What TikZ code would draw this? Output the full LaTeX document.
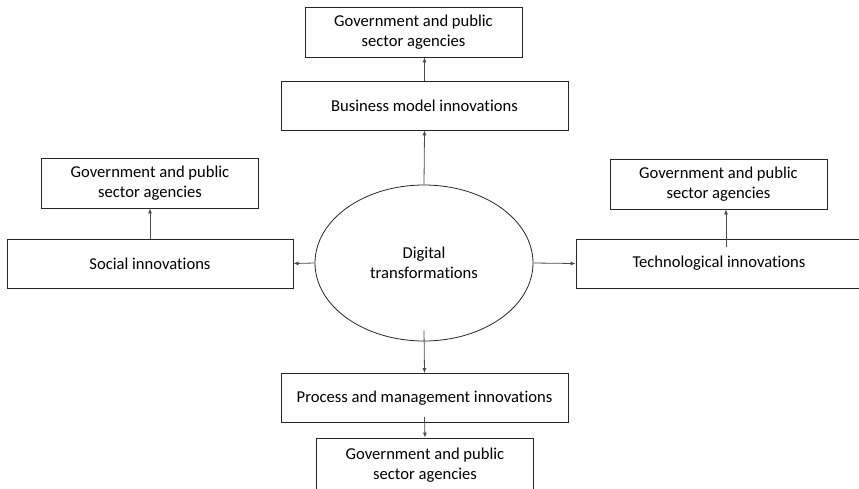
\documentclass[tikz,border=0pt]{standalone}
\usepackage{fontspec}
\setmainfont{Carlito}[Ligatures=NoCommon]
\usepackage{tikz}
\usetikzlibrary{shapes,arrows.meta,positioning,calc}

\begin{document}
\begin{tikzpicture}[x=1pt, y=-1pt,
  box/.style={draw=black!85, line width=0.8pt, align=center, inner sep=0pt,
    font=\fontsize{16.6}{20.5}\selectfont},
  inno/.style={box, minimum width=287pt, minimum height=49pt},
  gov/.style={box, minimum width=217pt, minimum height=50pt},
  link/.style={draw=black!70, line width=0.8pt, -{Latex[length=5pt,width=4pt]}}]
  \useasboundingbox (0,0) rectangle (859,488);

  % Centre
  \node[box, ellipse, minimum width=218pt, minimum height=156pt] (dt) at (424,263) {Digital\\transformations};

  % Innovation boxes
  \node[inno] (bmi) at (424.5,105.5) {Business model innovations};
  \node[inno] (pmi) at (424.5,398) {Process and management innovations};
  \node[inno, minimum width=286pt] (soc) at (150,263.5) {Social innovations};
  \node[inno, minimum width=286pt] (tech) at (719,263.5) {Technological innovations};

  % Agencies
  \node[gov] (govT) at (413.5,32) {Government and public\\sector agencies};
  \node[gov, minimum height=54pt] (govB) at (425,465) {Government and public\\sector agencies};
  \node[gov] (govL) at (150,183) {Government and public\\sector agencies};
  \node[gov] (govR) at (718.5,184) {Government and public\\sector agencies};

  % Links
  \draw[link] (dt.north) -- (bmi.south);
  \draw[link] (bmi.north) -- (bmi.north |- govT.south);
  \draw[link] ([yshift=11pt]dt.south) -- (pmi.north);
  \draw[link] ([yshift=6pt]pmi.south) -- (govB.north);
  \draw[link] (dt.west) -- (soc.east);
  \draw[link] (soc.north) -- (govL.south);
  \draw[link] (dt.east) -- (tech.west);
  \coordinate (techup) at ([xshift=7pt,yshift=-8pt]tech.north);
  \draw[link] (techup) -- (techup |- govR.south);
\end{tikzpicture}
\end{document}
